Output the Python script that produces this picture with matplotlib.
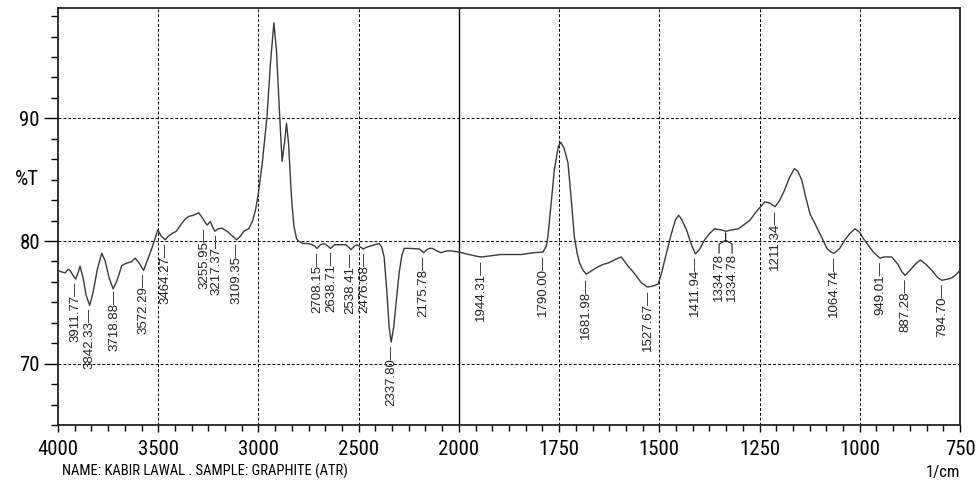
import numpy as np
import matplotlib
matplotlib.use("Agg")
import matplotlib.pyplot as plt
from matplotlib import font_manager
from matplotlib.transforms import offset_copy

# spectrum: wavenumber (1/cm) and %T
wavenumber = [
    4000, 3985, 3965, 3950, 3940, 3925, 3912, 3900, 3890, 3875, 3860, 3842, 3825, 3805,
    3782, 3765, 3745, 3725, 3705, 3682, 3657, 3635, 3615, 3595, 3573, 3550, 3532, 3502,
    3485, 3465, 3450, 3432, 3410, 3382, 3365, 3348, 3325, 3298, 3280, 3265, 3256, 3240,
    3228, 3217, 3200, 3182, 3157, 3130, 3109, 3090, 3073, 3048, 3030, 3015, 3000, 2980,
    2957, 2940, 2923, 2910, 2895, 2882, 2870, 2860, 2850, 2835, 2823, 2810, 2800, 2780,
    2760, 2740, 2720, 2708, 2690, 2673, 2655, 2640, 2620, 2606, 2565, 2550, 2538, 2520,
    2507, 2490, 2477, 2460, 2440, 2420, 2398, 2385, 2373, 2360, 2348, 2338, 2325, 2310,
    2298, 2285, 2273, 2240, 2198, 2185, 2176, 2160, 2145, 2132, 2110, 2090, 2060, 2040,
    2000, 1975, 1955, 1944, 1920, 1895, 1845, 1812, 1790, 1782, 1778, 1770, 1762, 1752,
    1746, 1738, 1728, 1720, 1712, 1705, 1699, 1690, 1682, 1668, 1653, 1640, 1628, 1615,
    1603, 1595, 1588, 1578, 1562, 1545, 1530, 1520, 1510, 1503, 1495, 1487, 1470, 1460,
    1452, 1445, 1432, 1420, 1410, 1400, 1387, 1375, 1362, 1345, 1334, 1320, 1303, 1290,
    1274, 1258, 1245, 1237, 1225, 1211, 1200, 1187, 1175, 1163, 1155, 1145, 1135, 1124,
    1110, 1095, 1082, 1072, 1064, 1050, 1037, 1025, 1012, 1000, 991, 980, 966, 955,
    949, 940, 920, 905, 895, 887, 875, 862, 849, 835, 820, 805, 795, 780,
    770, 762, 750,
]
transmittance = [
    77.6, 77.5, 77.4, 77.7, 77.6, 77.2, 76.9, 77.4, 77.95, 77.0, 75.6, 74.75, 75.8, 77.6,
    79.0, 78.4, 77.0, 76.1, 76.8, 78.0, 78.2, 78.3, 78.6, 78.2, 77.6, 78.6, 79.4, 80.9,
    80.4, 80.1, 80.4, 80.6, 80.8, 81.45, 81.8, 82.0, 82.1, 82.3, 81.9, 81.5, 81.3, 81.6,
    81.1, 80.8, 81.0, 81.05, 80.8, 80.4, 80.1, 80.4, 80.8, 81.0, 81.6, 82.5, 83.9, 86.5,
    90.2, 94.5, 97.8, 95.5, 90.5, 86.5, 88.0, 89.6, 88.0, 83.5, 81.2, 80.2, 80.0, 79.8,
    79.8, 79.75, 79.6, 79.4, 79.7, 79.8, 79.6, 79.4, 79.7, 79.7, 79.7, 79.5, 79.3, 79.6,
    79.7, 79.5, 79.35, 79.5, 79.6, 79.7, 79.8, 79.5, 78.7, 76.0, 73.0, 71.75, 73.0, 75.5,
    77.4, 78.8, 79.4, 79.4, 79.35, 79.2, 79.05, 79.3, 79.4, 79.4, 79.2, 79.05, 79.2, 79.2,
    79.1, 78.9, 78.75, 78.7, 78.8, 78.9, 78.9, 79.05, 79.1, 79.6, 80.35, 83.0, 85.8, 87.7,
    88.05, 87.6, 86.4, 83.5, 80.35, 79.0, 78.2, 77.6, 77.3, 77.6, 77.9, 78.1, 78.2, 78.4,
    78.6, 78.7, 78.4, 77.95, 77.35, 76.6, 76.25, 76.3, 76.4, 76.5, 77.3, 78.4, 80.6, 81.7,
    82.1, 81.8, 80.9, 79.7, 78.95, 79.3, 80.1, 80.6, 81.0, 80.9, 80.8, 80.9, 81.0, 81.3,
    81.7, 82.4, 82.9, 83.2, 83.1, 82.8, 83.3, 84.2, 85.2, 85.9, 85.7, 85.0, 83.6, 82.2,
    81.3, 80.3, 79.4, 79.1, 79.0, 79.4, 80.1, 80.6, 81.0, 80.7, 80.2, 79.7, 79.1, 78.75,
    78.6, 78.7, 78.7, 78.1, 77.5, 77.2, 77.6, 78.1, 78.45, 78.1, 77.6, 77.0, 76.8, 76.9,
    77.0, 77.2, 77.6,
]

# peak table printed by the instrument software
peak_labels = [
    "3911.77", "3842.33", "3718.88", "3572.29", "3464.27", "3255.95", "3217.37",
    "3109.35", "2708.15", "2638.71", "2538.41", "2476.68", "2337.80", "2175.78",
    "1944.31", "1790.00", "1681.98", "1527.67", "1411.94", "1211.34", "1064.74",
    "949.01", "887.28", "794.70",
]
double_peak = "1334.78"

x_major = [4000, 3500, 3000, 2500, 2000, 1750, 1500, 1250, 1000, 750]
y_major = [70, 80, 90]


# 4000-2000 drawn at half the scale of 2000-750
def fwd(x):
    x = np.asarray(x, dtype=float)
    return np.where(x <= 2000, x / 2.5, 800 + (x - 2000) / 5.0)


def inv(u):
    u = np.asarray(u, dtype=float)
    return np.where(u <= 800, u * 2.5, 2000 + (u - 800) * 5.0)


names = {f.name for f in font_manager.fontManager.ttflist}
axis_font = "Liberation Sans"
for cand in ["Liberation Sans Narrow", "Arial Narrow", "DejaVu Sans Condensed",
             "Roboto Condensed", "Open Sans Condensed"]:
    if cand in names:
        axis_font = cand
        break
narrow = axis_font != "Liberation Sans"
tick_size = 15 if narrow else 14
name_size = 10.5 if narrow else 9.5

fig = plt.figure(figsize=(9.77, 4.83), dpi=100)
ax = fig.add_axes([58 / 977, 1 - 425 / 483, 902 / 977, 417 / 483])
ax.set_xscale("function", functions=(fwd, inv))
ax.set_xlim(4000, 750)
ax.set_ylim(65, 99)

ax.plot(wavenumber, transmittance, color="#3a3a3a", lw=1.0, zorder=3)

# grid
for xv in x_major[1:-1]:
    if xv == 2000:
        ax.axvline(xv, color="black", lw=1.0, zorder=1)
    else:
        ax.axvline(xv, color="black", lw=0.7, ls=(0, (3, 2)), zorder=1)
for yv in y_major:
    ax.axhline(yv, color="black", lw=0.7, ls=(0, (3, 2)), zorder=1)

# ticks
x_minor = list(np.linspace(4000, 2000, 25)) + list(np.linspace(2000, 750, 31))
ax.set_xticks(x_major)
ax.set_xticks(x_minor, minor=True)
ax.set_yticks(y_major)
ax.set_yticks(np.arange(65, 99, 10 / 6), minor=True)
ax.tick_params(axis="x", which="major", length=5, width=1, pad=6, labelsize=tick_size)
ax.tick_params(axis="x", which="minor", length=4, width=1)
ax.tick_params(axis="y", which="major", length=10, width=1, pad=3, labelsize=tick_size)
ax.tick_params(axis="y", which="minor", length=5, width=1)
for lab in ax.get_xticklabels() + ax.get_yticklabels():
    lab.set_family(axis_font)
ax.text(0, 85, "%T", transform=offset_copy(ax.get_yaxis_transform(), fig=fig, x=-19, y=0, units="dots"),
        ha="right", va="center", fontsize=tick_size, family=axis_font)

for s in ax.spines.values():
    s.set_linewidth(1.3)
    s.set_color("#222222")

wn_inc = wavenumber[::-1]
tr_inc = transmittance[::-1]
nudge = {"3255.95": -3, "3217.37": 1.5, "2538.41": -1, "2476.68": 1}

# peak labels hanging below the trace
for lab in peak_labels:
    w = float(lab)
    yv = np.interp(w, wn_inc, tr_inc)
    tr = offset_copy(ax.transData, fig=fig, x=nudge.get(lab, 0), y=0, units="dots")
    ax.text(w, yv - 0.25, lab + "\u2014", rotation=90, ha="center", va="top", transform=tr,
            fontsize=9.5, family="Liberation Sans", color="#222222", zorder=4)

# two peaks at the same position: forked leader
w = float(double_peak)
yv = np.interp(w, wn_inc, tr_inc)
trans = ax.transData
p0 = trans.transform((w, yv))
p_top = (p0[0], p0[1] - 2)
p_bot = (p0[0], p0[1] - 9)
inv_t = trans.inverted()
for dx in (-6.5, 6.5):
    pts = [p_top, p_bot, (p_bot[0] + dx, p_bot[1] - 4), (p_bot[0] + dx, p_bot[1] - 13)]
    dpts = inv_t.transform(pts)
    ax.plot(dpts[:, 0], dpts[:, 1], color="#222222", lw=0.8, zorder=4)
    end = dpts[-1]
    ax.text(end[0], end[1], double_peak, rotation=90, ha="center", va="top",
            fontsize=9.5, family="Liberation Sans", color="#222222", zorder=4)

fig.text(62 / 977, 1 - 476 / 483, "NAME: KABIR LAWAL . SAMPLE: GRAPHITE (ATR)",
         ha="left", va="baseline", fontsize=name_size, family=axis_font)
fig.text(960 / 977, 1 - 477 / 483, "1/cm", ha="right", va="baseline",
         fontsize=name_size + 1.5, family=axis_font)

fig.savefig("out.png", dpi=100)
